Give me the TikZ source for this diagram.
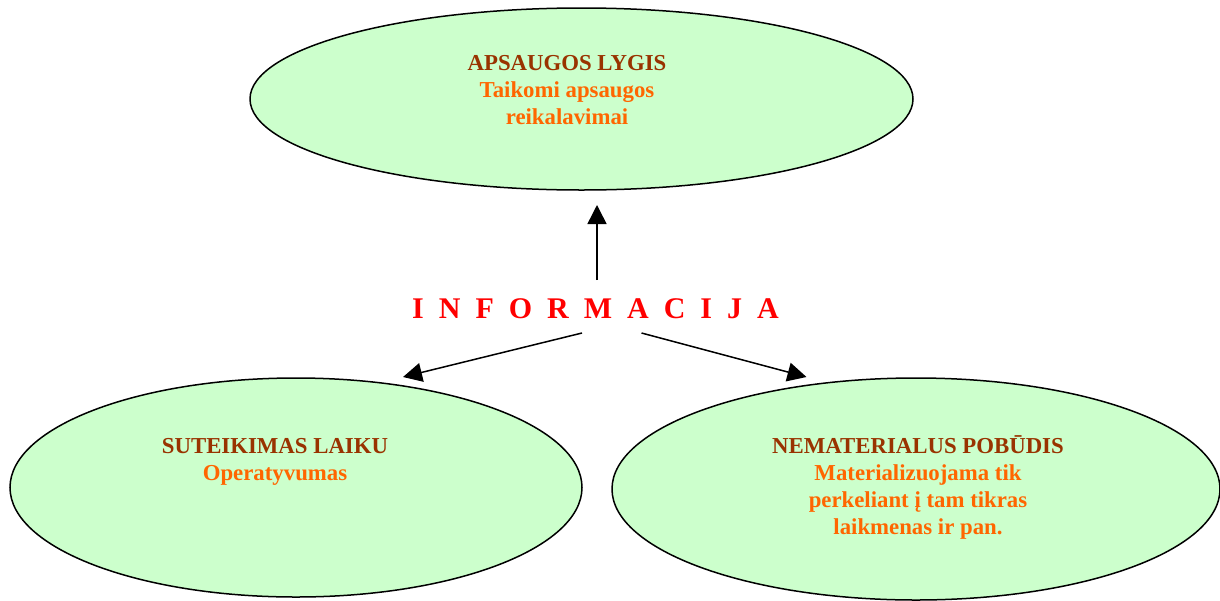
\documentclass[tikz,border=0pt]{standalone}
\usepackage{fontspec}
\setmainfont{Liberation Serif}
\usetikzlibrary{shapes.geometric,arrows.meta}
\definecolor{ellfill}{HTML}{CCFFCC}
\definecolor{titlebrown}{HTML}{993300}
\definecolor{subor}{HTML}{FF6600}
\definecolor{infored}{HTML}{FF0000}
\newcommand{\infogap}{\hspace{0.5em}}
\begin{document}
\begin{tikzpicture}[x=1pt,y=-1pt,
  ell/.style={ellipse,draw=black,fill=ellfill,line width=1.5pt,inner sep=0pt},
  ttl/.style={anchor=base,inner sep=0pt,text=titlebrown,font=\fontsize{22.8}{27}\selectfont\bfseries},
  sub/.style={anchor=base,inner sep=0pt,text=subor,font=\fontsize{22.8}{27}\selectfont\bfseries},
  arr/.style={line width=1.5pt,-{Triangle[length=19pt,width=19pt]}}]
\useasboundingbox (0,0) rectangle (1220,600);
% ellipses
\node[ell,minimum width=663pt,minimum height=182pt] (top) at (581.5,99) {};
\node[ell,minimum width=572pt,minimum height=219pt] (bl) at (296,487.5) {};
\node[ell,minimum width=608pt,minimum height=222pt] (br) at (916,489) {};
% texts
\node[ttl] (t1) at (567,70) {APSAUGOS LYGIS};
\node[sub] (t2) at (567,97) {Taikomi apsaugos};
\node[sub] (t3) at (567,124) {reikalavimai};
\node[ttl] (l1) at (275,453) {SUTEIKIMAS LAIKU};
\node[sub] (l2) at (275,480) {Operatyvumas};
\node[ttl] (r1) at (918,453) {NEMATERIALUS POBŪDIS};
\node[sub] (r2) at (918,480) {Materializuojama tik};
\node[sub] (r3) at (918,507) {perkeliant į tam tikras};
\node[sub] (r4) at (918,534) {laikmenas ir pan.};
% center label
\node[anchor=base,inner sep=0pt,text=infored,font=\fontsize{30}{36}\selectfont\bfseries] (info) at (595.5,318)
  {I\infogap N\infogap F\infogap O\infogap R\infogap M\infogap A\infogap C\infogap I\infogap J\infogap A};
% connector ends
\coordinate (upS) at (597,280);
\coordinate (upE) at (597,205);
\coordinate (lS) at (582,333);
\coordinate (lE) at (403,377);
\coordinate (rS) at (641.5,333);
\coordinate (rE) at (806.5,377);
\draw[arr] (upS) -- (upE);
\draw[arr] (lS) -- (lE);
\draw[arr] (rS) -- (rE);
\end{tikzpicture}
\end{document}
